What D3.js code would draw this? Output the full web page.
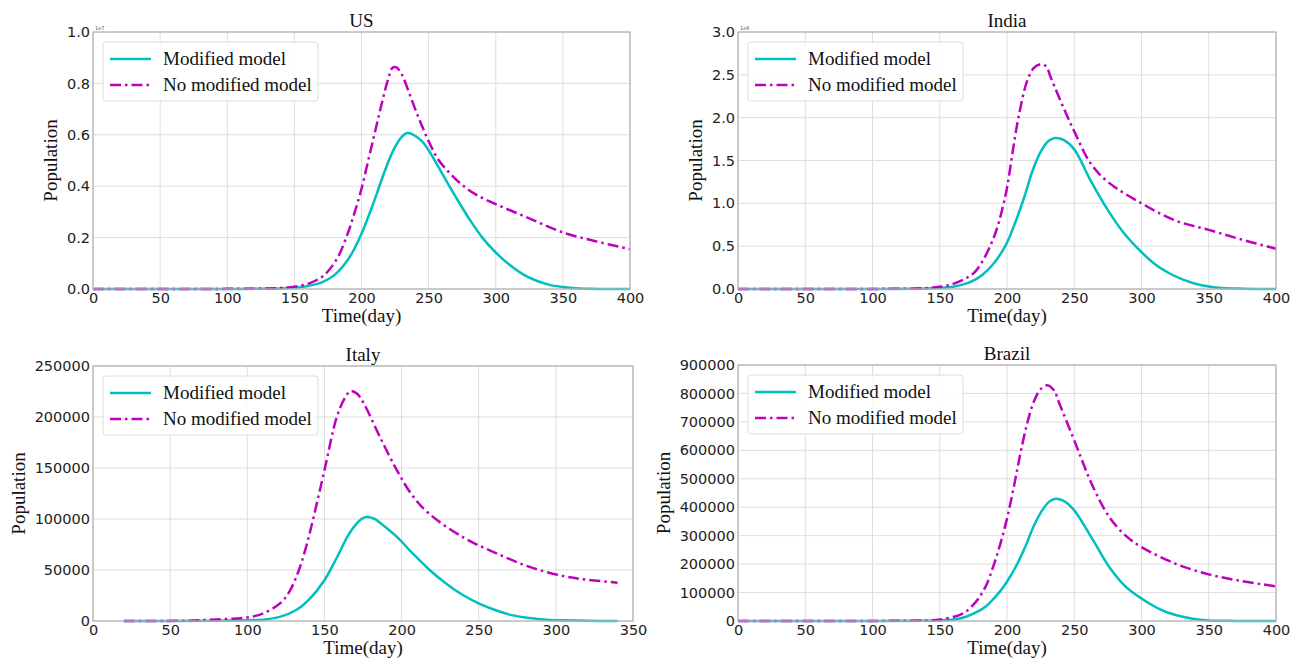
<!DOCTYPE html>
<html><head><meta charset="utf-8">
<script src="https://cdn.jsdelivr.net/npm/d3@7"></script>
<style>body{margin:0;background:#fff}svg{display:block}</style>
</head><body>
<svg id="c" width="1299" height="658"></svg>
<script>
// ---- data (days, population) ----
const usModified = [[0,0],[100,0],[140,0.002],[150,0.005],[160,0.012],[170,0.025],[180,0.055],[190,0.115],[195,0.16],[200,0.215],[205,0.28],[210,0.35],[215,0.425],[220,0.495],[225,0.553],[230,0.592],[234,0.607],[238,0.602],[245,0.575],[250,0.54],[260,0.45],[270,0.36],[280,0.275],[290,0.2],[300,0.142],[310,0.095],[320,0.058],[330,0.033],[340,0.016],[350,0.008],[360,0.003],[370,0.001],[400,0]];
const usNoModified = [[0,0],[100,0.0005],[130,0.002],[140,0.004],[150,0.009],[160,0.02],[170,0.045],[176,0.075],[183,0.13],[190,0.22],[195,0.3],[200,0.39],[205,0.5],[210,0.61],[215,0.72],[220,0.82],[223,0.86],[226,0.862],[230,0.835],[235,0.77],[240,0.7],[245,0.635],[250,0.575],[257,0.505],[265,0.455],[275,0.405],[285,0.368],[300,0.33],[325,0.275],[350,0.22],[375,0.185],[400,0.155]];
const indiaModified = [[0,0],[100,0],[140,0.005],[150,0.012],[160,0.027],[170,0.065],[176,0.106],[182,0.17],[188,0.26],[194,0.38],[200,0.54],[206,0.77],[213,1.08],[219,1.38],[225,1.6],[231,1.73],[236,1.763],[242,1.74],[250,1.63],[262,1.27],[275,0.92],[287,0.65],[300,0.43],[310,0.29],[320,0.19],[330,0.115],[340,0.062],[350,0.03],[360,0.012],[375,0.004],[400,0]];
const indiaNoModified = [[0,0],[100,0.001],[140,0.01],[150,0.025],[160,0.06],[170,0.13],[176,0.196],[182,0.33],[188,0.52],[192,0.68],[196,0.9],[200,1.18],[204,1.58],[208.5,2.0],[215,2.43],[220,2.58],[225,2.625],[229,2.6],[233,2.45],[243,2.08],[250,1.84],[262,1.47],[275,1.25],[300,1.0],[325,0.8],[350,0.69],[375,0.575],[400,0.47]];
const italyModified = [[20,0],[80,300],[100,800],[110,1300],[121,4000],[132,11000],[140,21000],[150,40000],[158,62000],[165,83000],[170,94000],[174,100000],[177,102000],[182,100500],[186,96400],[197,82400],[207,66500],[218,50300],[229,36600],[240,25200],[251,16500],[262,10000],[272,5500],[283,2900],[294,1300],[305,650],[320,200],[340,0]];
const italyNoModified = [[20,0],[60,300],[80,1500],[100,3500],[110,7200],[121,17000],[127,28000],[133,48000],[138,72000],[143,102000],[150,147700],[158,200000],[163,218000],[167,225500],[171,223000],[175,214700],[186,180400],[197,147700],[207,123000],[218,105000],[240,82000],[262,66000],[283,53000],[305,44000],[320,40500],[340,37600]];
const brazilModified = [[0,0],[100,0],[140,1000],[150,2000],[164,8000],[170,16000],[177,30000],[184,50000],[190,78000],[195,105000],[200,138000],[207,195000],[214,265000],[220,335000],[227,395000],[232,422000],[237,430000],[243,420000],[250,389000],[264,284000],[276,190000],[288,122000],[300,79000],[313,43000],[326,20000],[338,8000],[350,2000],[370,300],[400,0]];
const brazilNoModified = [[0,0],[100,300],[140,2000],[150,5000],[164,20000],[170,35000],[177,68000],[181,95000],[185,130000],[190,195000],[195,270000],[200,360000],[205,470000],[210,590000],[215,695000],[220,772000],[225,815000],[230,829000],[235,810000],[239,764000],[250,635000],[264,471000],[276,366000],[288,301000],[300,260000],[325,202000],[350,164000],[375,140000],[400,122000]];

const usYTicks = [0,0.2,0.4,0.6,0.8,1.0];
const indiaYTicks = [0,0.5,1.0,1.5,2.0,2.5,3.0];
const italyYTicks = [0,50000,100000,150000,200000,250000];
const brazilYTicks = [0,100000,200000,300000,400000,500000,600000,700000,800000,900000];
const xTicks400 = [0,50,100,150,200,250,300,350,400];
const xTicks350 = [0,50,100,150,200,250,300,350];
const legendLabels = ["Modified model","No modified model"];

const COLORS = ["#00bfbf","#bf00bf"];
const DASH = [null,"11,4,2.5,4"];

const panels = [
  {title:"US", mod:usModified, nomod:usNoModified, xmax:400, xt:xTicks400, ymax:1.0, yt:usYTicks, fmt:d3.format(".1f"), off:"1e7",
   box:{l:93,r:630,t:32,b:289}, ylabX:50},
  {title:"India", mod:indiaModified, nomod:indiaNoModified, xmax:400, xt:xTicks400, ymax:3.0, yt:indiaYTicks, fmt:d3.format(".1f"), off:"1e6",
   box:{l:738,r:1276,t:32,b:289}, ylabX:695},
  {title:"Italy", mod:italyModified, nomod:italyNoModified, xmax:350, xt:xTicks350, ymax:250000, yt:italyYTicks, fmt:d3.format("d"), off:null,
   box:{l:93,r:633,t:366,b:621}, ylabX:18},
  {title:"Brazil", mod:brazilModified, nomod:brazilNoModified, xmax:400, xt:xTicks400, ymax:900000, yt:brazilYTicks, fmt:d3.format("d"), off:null,
   box:{l:738,r:1276,t:365,b:621}, ylabX:663}
];

const svg = d3.select("#c");
const serif = "'Liberation Serif','Times New Roman',serif";
const sans = "'DejaVu Sans',sans-serif";

panels.forEach(p=>{
  const b = p.box;
  const x = d3.scaleLinear().domain([0,p.xmax]).range([b.l,b.r]);
  const y = d3.scaleLinear().domain([0,p.ymax]).range([b.b,b.t]);
  const g = svg.append("g");

  // grid
  g.append("g").selectAll("line").data(p.xt).join("line")
    .attr("x1",d=>x(d)).attr("x2",d=>x(d)).attr("y1",b.t).attr("y2",b.b)
    .attr("stroke","#dedede").attr("stroke-width",1);
  g.append("g").selectAll("line").data(p.yt).join("line")
    .attr("x1",b.l).attr("x2",b.r).attr("y1",d=>y(d)).attr("y2",d=>y(d))
    .attr("stroke","#dedede").attr("stroke-width",1);

  // axes
  const xa = g.append("g").attr("transform",`translate(0,${b.b})`)
    .call(d3.axisBottom(x).tickValues(p.xt).tickSize(0).tickPadding(4).tickFormat(d3.format("d")));
  const ya = g.append("g").attr("transform",`translate(${b.l},0)`)
    .call(d3.axisLeft(y).tickValues(p.yt).tickSize(0).tickPadding(3).tickFormat(p.fmt));
  [xa,ya].forEach(a=>{
    a.select(".domain").remove();
    a.selectAll("text").attr("font-family",sans).attr("font-size",14.5).attr("fill","#222");
  });

  // lines
  const line = d3.line().x(d=>x(d[0])).y(d=>y(Math.max(0,d[1]))).curve(d3.curveCatmullRom.alpha(0.5));
  [p.mod,p.nomod].forEach((data,i)=>{
    g.append("path").datum(data).attr("d",line).attr("fill","none")
      .attr("stroke",COLORS[i]).attr("stroke-width",2.5)
      .attr("stroke-dasharray",DASH[i]);
  });

  // spines
  g.append("rect").attr("x",b.l).attr("y",b.t).attr("width",b.r-b.l).attr("height",b.b-b.t)
    .attr("fill","none").attr("stroke","#b5b5b5").attr("stroke-width",1.3);

  if(p.off){
    g.append("text").attr("x",b.l+2).attr("y",b.t-2).text(p.off)
      .attr("font-family",sans).attr("font-size",5).attr("fill","#555");
  }

  // title
  g.append("text").attr("x",(b.l+b.r)/2).attr("y",b.t-5).attr("text-anchor","middle")
    .attr("font-family",serif).attr("font-size",19).attr("fill","#111").text(p.title);
  // x label
  g.append("text").attr("x",(b.l+b.r)/2).attr("y",b.b+33).attr("text-anchor","middle")
    .attr("font-family",serif).attr("font-size",19).attr("fill","#111").text("Time(day)");
  // y label
  g.append("text").attr("transform",`translate(${p.ylabX},${(b.t+b.b)/2}) rotate(-90)`)
    .attr("text-anchor","middle").attr("dy","0.35em")
    .attr("font-family",serif).attr("font-size",19).attr("fill","#111").text("Population");

  // legend
  const lg = g.append("g").attr("transform",`translate(${b.l+10},${b.t+10})`);
  lg.append("rect").attr("width",215).attr("height",59).attr("rx",3)
    .attr("fill","#fff").attr("fill-opacity",0.85).attr("stroke","#ddd").attr("stroke-width",1);
  legendLabels.forEach((t,i)=>{
    const yy = 17 + i*26;
    lg.append("line").attr("x1",7).attr("x2",48).attr("y1",yy).attr("y2",yy)
      .attr("stroke",COLORS[i]).attr("stroke-width",2.5).attr("stroke-dasharray",DASH[i]);
    lg.append("text").attr("x",60).attr("y",yy).attr("dy","0.33em")
      .attr("font-family",serif).attr("font-size",19).attr("fill","#111").text(t);
  });
});
</script>
</body></html>
